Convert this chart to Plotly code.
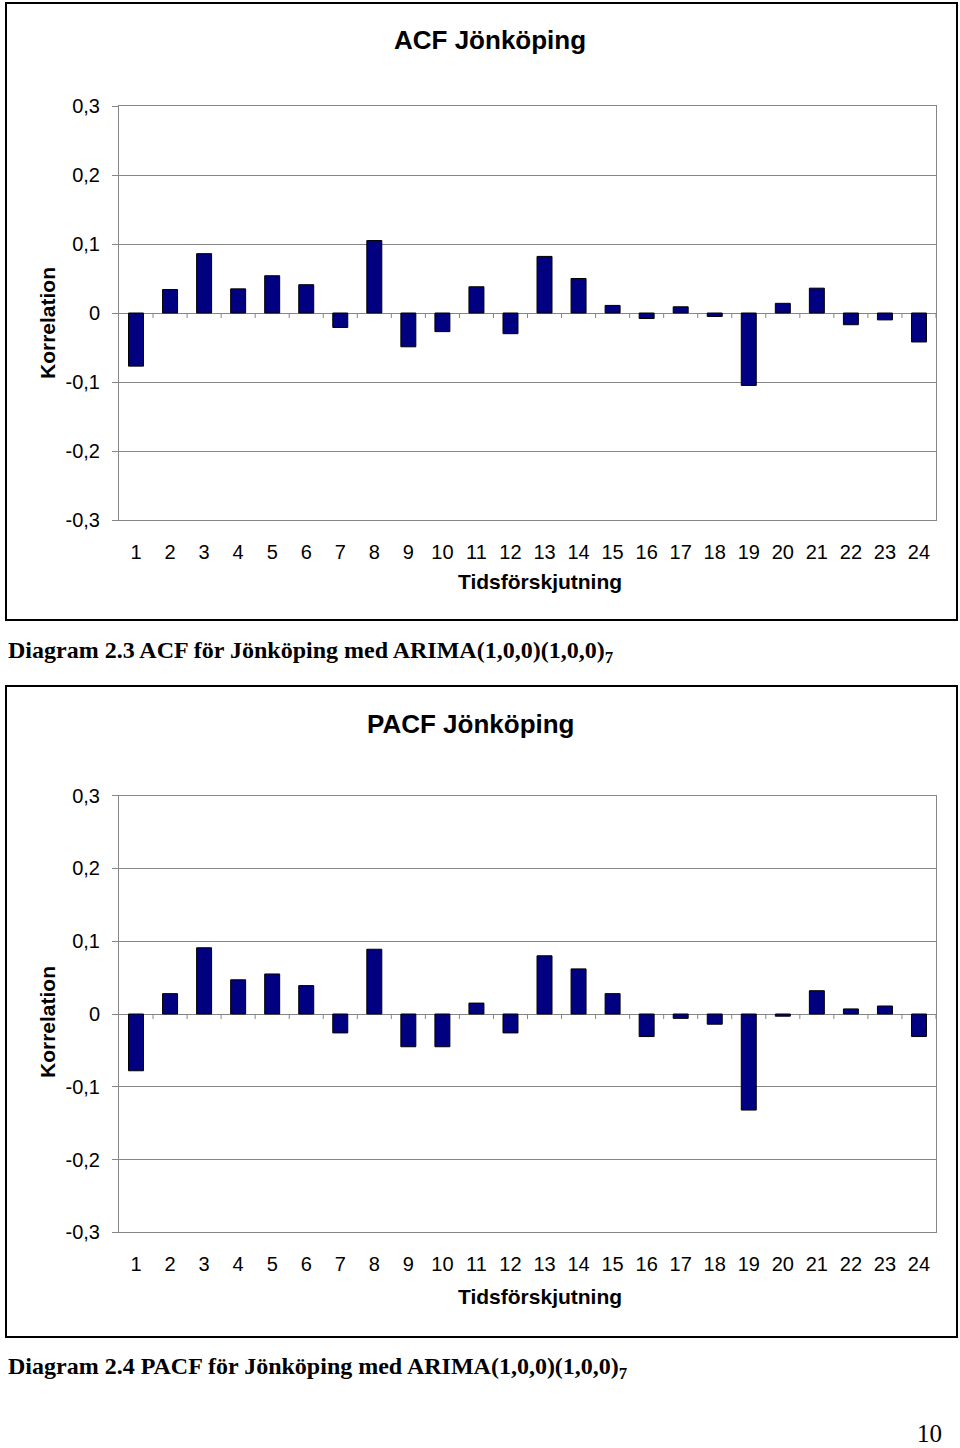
import plotly.graph_objects as go

# ---- data ----
lags = list(range(1, 25))
lag_labels = [str(v) for v in lags]
acf_values = [-0.077, 0.034, 0.086, 0.035, 0.054, 0.041, -0.021, 0.105, -0.049, -0.027,
              0.038, -0.030, 0.082, 0.050, 0.011, -0.008, 0.009, -0.005, -0.105, 0.014,
              0.036, -0.017, -0.010, -0.042]
pacf_values = [-0.078, 0.028, 0.091, 0.047, 0.055, 0.039, -0.026, 0.089, -0.045, -0.045,
               0.015, -0.026, 0.080, 0.062, 0.028, -0.031, -0.006, -0.014, -0.132, -0.003,
               0.032, 0.007, 0.011, -0.031]
y_tickvals = [-0.3, -0.2, -0.1, 0, 0.1, 0.2, 0.3]
y_ticktext = ["-0,3", "-0,2", "-0,1", "0", "0,1", "0,2", "0,3"]
titles = ["ACF Jönköping", "PACF Jönköping"]
x_title = "Tidsförskjutning"
y_title = "Korrelation"
captions = ["Diagram 2.3 ACF för Jönköping med ARIMA(1,0,0)(1,0,0)<sub>7</sub>",
            "Diagram 2.4 PACF för Jönköping med ARIMA(1,0,0)(1,0,0)<sub>7</sub>"]
page_number = "10"

W, H = 960, 1448
SANS = "Liberation Sans, Arial, sans-serif"
SERIF = "Liberation Serif, Times New Roman, serif"
GRAY = "#868686"
BAR = "#000080"


def px(x):
    return x / W


def py(y):
    return 1 - y / H


fig = go.Figure()

panels = [
    dict(vals=acf_values, xa="x", ya="y", top=106, bottom=520),
    dict(vals=pacf_values, xa="x2", ya="y2", top=795.7, bottom=1232.3),
]

for p in panels:
    fig.add_trace(go.Bar(
        x=lags, y=p["vals"], xaxis=p["xa"], yaxis=p["ya"],
        width=0.44,
        marker=dict(color=BAR, line=dict(color="black", width=1)),
        hoverinfo="x+y",
    ))

layout = dict(
    width=W, height=H,
    margin=dict(l=0, r=0, t=0, b=0, autoexpand=False),
    paper_bgcolor="white", plot_bgcolor="white",
    showlegend=False,
    separators=",.",
    bargap=0.56,
)

for i, p in enumerate(panels):
    sfx = "" if i == 0 else str(i + 1)
    layout["xaxis" + sfx] = dict(
        domain=[px(119), px(936)], anchor="y" + sfx,
        range=[0.5, 24.5],
        tickmode="array", tickvals=lags, ticktext=lag_labels,
        tickfont=dict(family=SANS, size=20, color="black"),
        showgrid=False, zeroline=False,
        showline=True, linecolor=GRAY, linewidth=1, mirror=True,
        ticks="", ticklabelstandoff=14,
        automargin=False,
        fixedrange=True,
    )
    layout["yaxis" + sfx] = dict(
        domain=[py(p["bottom"]), py(p["top"])], anchor="x" + sfx,
        range=[-0.3, 0.3],
        tickmode="array", tickvals=y_tickvals, ticktext=y_ticktext,
        tickfont=dict(family=SANS, size=20, color="black"),
        showgrid=True, gridcolor=GRAY, gridwidth=1,
        zeroline=True, zerolinecolor=GRAY, zerolinewidth=1,
        showline=True, linecolor=GRAY, linewidth=1, mirror=True,
        ticks="outside", ticklen=6, tickcolor=GRAY, tickwidth=1,
        ticklabelstandoff=8,
        automargin=False,
        fixedrange=True,
    )

shapes = []
# chart frames
for top, bottom in [(3, 620), (686, 1337)]:
    shapes.append(dict(type="rect", xref="paper", yref="paper",
                       x0=px(6), x1=px(957), y0=py(bottom), y1=py(top),
                       line=dict(color="black", width=2), layer="below"))
# category boundary tick marks on the zero line
for i, p in enumerate(panels):
    sfx = "" if i == 0 else str(i + 1)
    for b in lags:
        shapes.append(dict(type="line", xref="x" + sfx, yref="y" + sfx,
                           ysizemode="pixel", yanchor=0, y0=0, y1=-5,
                           x0=b + 0.5, x1=b + 0.5,
                           line=dict(color=GRAY, width=1)))
layout["shapes"] = shapes

ann = []
title_pos = [(490, 40), (471, 724)]
xt_pos = [(540, 581), (540, 1296)]
yt_pos = [(47, 323), (47, 1022)]
cap_pos = [(6, 652), (6, 1368)]
for i in range(2):
    ann.append(dict(text="<b>" + titles[i] + "</b>", x=px(title_pos[i][0]), y=py(title_pos[i][1]),
                    xref="paper", yref="paper", showarrow=False, xanchor="center", yanchor="middle",
                    font=dict(family=SANS, size=26, color="black")))
    ann.append(dict(text="<b>" + x_title + "</b>", x=px(xt_pos[i][0]), y=py(xt_pos[i][1]),
                    xref="paper", yref="paper", showarrow=False, xanchor="center", yanchor="middle",
                    font=dict(family=SANS, size=21, color="black")))
    ann.append(dict(text="<b>" + y_title + "</b>", x=px(yt_pos[i][0]), y=py(yt_pos[i][1]),
                    xref="paper", yref="paper", showarrow=False, xanchor="center", yanchor="middle",
                    textangle=-90,
                    font=dict(family=SANS, size=21, color="black")))
    ann.append(dict(text="<b>" + captions[i] + "</b>", x=px(cap_pos[i][0]), y=py(cap_pos[i][1]),
                    xref="paper", yref="paper", showarrow=False, xanchor="left", yanchor="middle",
                    font=dict(family=SERIF, size=24, color="black")))
ann.append(dict(text=page_number, x=px(943), y=0, xref="paper", yref="paper",
                showarrow=False, xanchor="right", yanchor="bottom", borderpad=0,
                font=dict(family=SERIF, size=25, color="black")))
layout["annotations"] = ann

fig.update_layout(**layout)

fig.write_html("out.html", config={"displayModeBar": False, "staticPlot": True},
               post_script="document.body.style.margin='0';document.body.style.overflow='hidden';")
